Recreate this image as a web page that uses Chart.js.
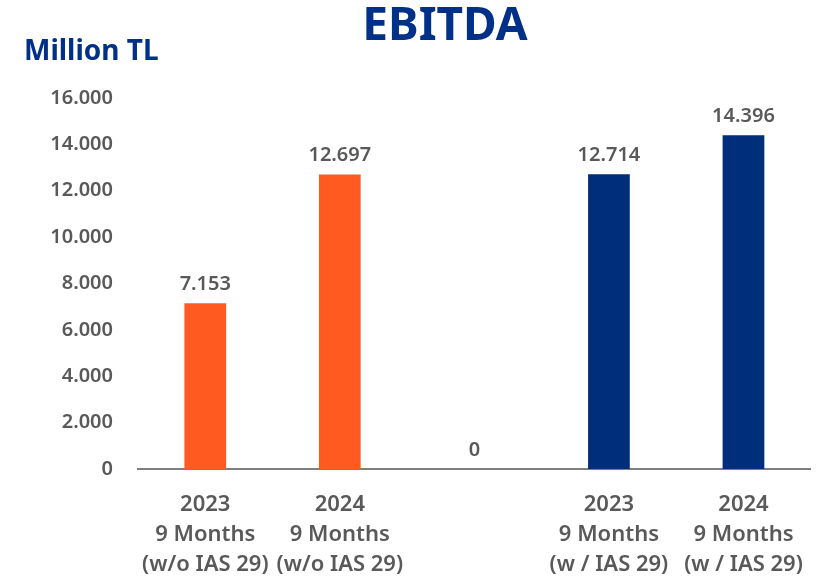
<!DOCTYPE html>
<html>
<head>
<meta charset="utf-8">
<script src="https://cdn.jsdelivr.net/npm/chart.js@4/dist/chart.umd.min.js"></script>
<style>
html,body{margin:0;padding:0;background:#fff;}
#wrap{width:825px;height:581px;position:relative;}
</style>
</head>
<body>
<div id="wrap"><canvas id="c" width="825" height="581"></canvas></div>
<script>
const chartTitle = 'EBITDA';
const unitLabel = 'Million TL';
const categories = [
  ['2023', '9 Months', '(w/o IAS 29)'],
  ['2024', '9 Months', '(w/o IAS 29)'],
  '',
  ['2023', '9 Months', '(w / IAS 29)'],
  ['2024', '9 Months', '(w / IAS 29)']
];
const ebitdaValues = [7153, 12697, 0, 12714, 14396];
const barColors = ['#FF5A1F', '#FF5A1F', '#FF5A1F', '#002E7A', '#002E7A'];
const yTicks = [0, 2000, 4000, 6000, 8000, 10000, 12000, 14000, 16000];

const FONT = '"Noto Sans", "Open Sans", sans-serif';
const GREY = '#595959';
const NAVY = '#003087';

function fmt(v) {
  return String(Math.round(v)).replace(/\B(?=(\d{3})+(?!\d))/g, '.');
}

const labelPlugin = {
  id: 'valueLabels',
  afterDatasetsDraw(chart) {
    const ctx = chart.ctx;
    const meta = chart.getDatasetMeta(0);
    ctx.save();
    ctx.font = '600 20px ' + FONT;
    ctx.fillStyle = GREY;
    ctx.textAlign = 'center';
    ctx.textBaseline = 'middle';
    meta.data.forEach((bar, i) => {
      ctx.fillText(fmt(ebitdaValues[i]), bar.x, bar.y - 19);
    });
    ctx.restore();
  }
};

const headPlugin = {
  id: 'heading',
  afterDraw(chart) {
    const ctx = chart.ctx;
    ctx.save();
    ctx.fillStyle = NAVY;
    ctx.textBaseline = 'middle';
    ctx.textAlign = 'center';
    ctx.font = 'bold 46px ' + FONT;
    ctx.fillText(chartTitle, 445, 27);
    ctx.textAlign = 'left';
    ctx.font = 'bold 28px ' + FONT;
    ctx.fillText(unitLabel, 24, 52);
    ctx.restore();
  }
};

new Chart(document.getElementById('c'), {
  type: 'bar',
  data: {
    labels: categories,
    datasets: [{
      data: ebitdaValues,
      backgroundColor: barColors,
      borderWidth: 0,
      barPercentage: 0.31,
      categoryPercentage: 1.0
    }]
  },
  options: {
    responsive: false,
    animation: false,
    devicePixelRatio: 1,
    layout: { padding: { top: 98, left: 25, right: 12, bottom: 0 } },
    plugins: {
      legend: { display: false },
      tooltip: { enabled: false },
      title: { display: false }
    },
    scales: {
      x: {
        afterFit(scale) { scale.height = 112; },
        grid: { display: false, drawTicks: false },
        border: { display: true, color: '#7F7F7F', width: 2 },
        ticks: {
          color: GREY,
          font: { family: FONT, size: 22, weight: '600', lineHeight: 1.364 },
          padding: 21,
          maxRotation: 0,
          autoSkip: false
        }
      },
      y: {
        min: 0,
        max: 16000,
        afterFit(scale) { scale.width = 113; },
        afterBuildTicks(scale) { scale.ticks = yTicks.map(v => ({ value: v })); },
        grid: { display: false, drawTicks: false },
        border: { display: false },
        ticks: {
          color: GREY,
          font: { family: FONT, size: 20, weight: '600' },
          padding: 25,
          callback: (v) => fmt(v)
        }
      }
    }
  },
  plugins: [labelPlugin, headPlugin]
});
</script>
</body>
</html>
